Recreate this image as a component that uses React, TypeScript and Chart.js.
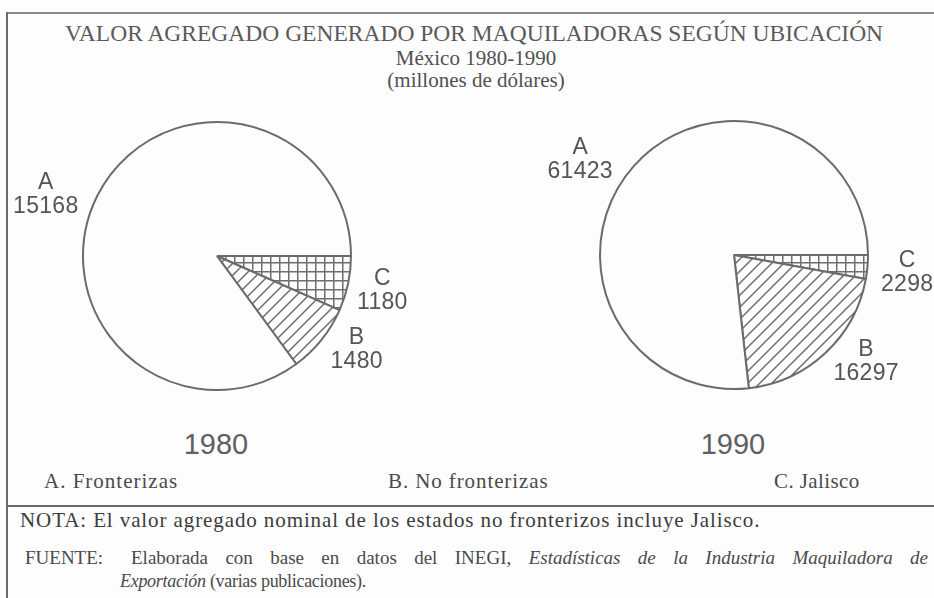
import React, { useEffect, useRef } from 'react';
import { Chart, PieController, ArcElement } from 'chart.js';

Chart.register(PieController, ArcElement);

// ---------- data ----------
const CATEGORIES = ['A', 'B', 'C'];
const CATEGORY_NAMES = ['A. Fronterizas', 'B. No fronterizas', 'C. Jalisco'];
const YEARS = ['1980', '1990'];
const VALUES_1980 = [15168, 1480, 1180];
const VALUES_1990 = [61423, 16297, 2298];

const TITLE = 'VALOR AGREGADO GENERADO POR MAQUILADORAS SEGÚN UBICACIÓN';
const SUBTITLE_1 = 'México 1980-1990';
const SUBTITLE_2 = '(millones de dólares)';

// ---------- styles ----------
const SERIF = '"Liberation Serif", "DejaVu Serif", serif';
const SANS = '"Liberation Sans", Arial, sans-serif';
const INK = '#6b6b6b';
const PAPER = '#fdfdfd';

// label placement relative to each slice's mid-angle (degrees nudge, gap beyond rim)
const PLACEMENT_1980: Record<string, { nudge: number; gap: number }> = {
  C: { nudge: 0, gap: 35 },
  B: { nudge: -5, gap: 34 },
  A: { nudge: -7, gap: 48 },
};
const PLACEMENT_1990: Record<string, { nudge: number; gap: number }> = {
  C: { nudge: 0.5, gap: 40 },
  B: { nudge: -8, gap: 36 },
  A: { nudge: -10, gap: 47 },
};

function makeCrossHatch(ctx: CanvasRenderingContext2D) {
  const s = 9;
  const c = document.createElement('canvas');
  c.width = s;
  c.height = s;
  const g = c.getContext('2d')!;
  g.fillStyle = PAPER;
  g.fillRect(0, 0, s, s);
  g.fillStyle = '#6e6e6e';
  g.fillRect(0, 0, s, 1.5);
  g.fillRect(0, 0, 1.5, s);
  return ctx.createPattern(c, 'repeat')!;
}

function makeDiagonal(ctx: CanvasRenderingContext2D) {
  const s = 12;
  const c = document.createElement('canvas');
  c.width = s;
  c.height = s;
  const g = c.getContext('2d')!;
  g.fillStyle = PAPER;
  g.fillRect(0, 0, s, s);
  g.strokeStyle = '#6e6e6e';
  g.lineWidth = 1.5;
  g.beginPath();
  g.moveTo(0, s);
  g.lineTo(s, 0);
  g.moveTo(-s / 2, s / 2);
  g.lineTo(s / 2, -s / 2);
  g.moveTo(s / 2, s * 1.5);
  g.lineTo(s * 1.5, s / 2);
  g.stroke();
  return ctx.createPattern(c, 'repeat')!;
}

const sliceLabels = {
  id: 'sliceLabels',
  afterDatasetsDraw(chart: any, _args: any, opts: any) {
    const ctx = chart.ctx as CanvasRenderingContext2D;
    const meta = chart.getDatasetMeta(0);
    const labels = chart.data.labels as string[];
    const data = chart.data.datasets[0].data as number[];
    ctx.save();
    ctx.font = opts.font;
    ctx.fillStyle = opts.color;
    ctx.textAlign = 'center';
    ctx.textBaseline = 'middle';
    try {
      (ctx as any).letterSpacing = opts.letterSpacing;
    } catch (e) {
      /* ignore */
    }
    meta.data.forEach((arc: any, i: number) => {
      const p = arc.getProps(['x', 'y', 'startAngle', 'endAngle', 'outerRadius'], true);
      const lay = opts.placement[labels[i]];
      const ang = (p.startAngle + p.endAngle) / 2 + (lay.nudge * Math.PI) / 180;
      const d = p.outerRadius + lay.gap;
      const cx = p.x + Math.cos(ang) * d;
      const cy = p.y + Math.sin(ang) * d;
      ctx.fillText(labels[i], cx, cy - opts.lineGap / 2);
      ctx.fillText(String(data[i]), cx, cy + opts.lineGap / 2);
    });
    ctx.restore();
  },
};

function PieCanvas(props: {
  values: number[];
  placement: Record<string, { nudge: number; gap: number }>;
  left: number;
  top: number;
  width: number;
  height: number;
  padding: { left: number; right: number; top: number; bottom: number };
}) {
  const ref = useRef<HTMLCanvasElement | null>(null);
  useEffect(() => {
    const ctx = ref.current!.getContext('2d')!;
    const order = [2, 1, 0]; // C, B, A clockwise from 3 o'clock
    const fillByCategory: Record<string, any> = {
      A: PAPER,
      B: makeDiagonal(ctx),
      C: makeCrossHatch(ctx),
    };
    const chart = new Chart(ctx, {
      type: 'pie',
      data: {
        labels: order.map((i) => CATEGORIES[i]),
        datasets: [
          {
            data: order.map((i) => props.values[i]),
            backgroundColor: order.map((i) => fillByCategory[CATEGORIES[i]]) as any,
            borderColor: INK,
            borderWidth: 2,
          },
        ],
      },
      options: {
        animation: false,
        responsive: false,
        radius: 134,
        rotation: 90,
        layout: { padding: props.padding },
        plugins: {
          sliceLabels: {
            font: `23px ${SANS}`,
            color: '#555555',
            letterSpacing: '0.3px',
            lineGap: 24,
            placement: props.placement,
          },
        } as any,
      } as any,
      plugins: [sliceLabels as any],
    });
    return () => chart.destroy();
  }, []);
  return (
    <canvas
      ref={ref}
      width={props.width}
      height={props.height}
      style={{ position: 'absolute', left: props.left, top: props.top }}
    />
  );
}

// baseline-positioned text (line-height = font size)
function Text(props: {
  x: number;
  baseline: number;
  size: number;
  sans?: boolean;
  align?: 'left' | 'center';
  color?: string;
  spacing?: number;
  children: React.ReactNode;
  width?: number;
  justify?: boolean;
}) {
  const factor = props.sans ? 0.8465 : 0.8375;
  const top = props.baseline - factor * props.size;
  const centered = props.align === 'center';
  const style: React.CSSProperties = {
    position: 'absolute',
    top,
    left: centered ? props.x - 500 : props.x,
    width: centered ? 1000 : props.width,
    textAlign: props.justify ? 'justify' : centered ? 'center' : 'left',
    textAlignLast: props.justify ? 'justify' : undefined,
    fontFamily: props.sans ? SANS : SERIF,
    fontSize: props.size,
    lineHeight: `${props.size}px`,
    color: props.color || '#555',
    letterSpacing: props.spacing ? `${props.spacing}px` : undefined,
    whiteSpace: props.justify ? 'normal' : 'nowrap',
  };
  return <div style={style}>{props.children}</div>;
}

export default function App() {
  return (
    <div
      style={{
        position: 'fixed',
        left: 0,
        top: 0,
        width: 934,
        height: 598,
        background: PAPER,
        overflow: 'hidden',
      }}
    >
      {/* frame */}
      <div style={{ position: 'absolute', left: 6, top: 12, width: 928, height: 2, background: '#8a8a8a' }} />
      <div style={{ position: 'absolute', left: 6, top: 12, width: 2, height: 586, background: '#6a6a6a' }} />
      <div style={{ position: 'absolute', left: 6, top: 505, width: 928, height: 2, background: '#6a6a6a' }} />

      <Text x={474} baseline={42} size={23.5} align="center" color="#5a5a5a">
        {TITLE}
      </Text>
      <Text x={476} baseline={66} size={21} align="center" color="#505050">
        {SUBTITLE_1}
      </Text>
      <Text x={476} baseline={88} size={21} align="center" color="#505050">
        {SUBTITLE_2}
      </Text>

      <PieCanvas
        values={VALUES_1980}
        placement={PLACEMENT_1980}
        left={0}
        top={100}
        width={467}
        height={320}
        padding={{ left: 83, right: 116, top: 22, bottom: 30 }}
      />
      <PieCanvas
        values={VALUES_1990}
        placement={PLACEMENT_1990}
        left={467}
        top={100}
        width={467}
        height={320}
        padding={{ left: 133, right: 66, top: 21, bottom: 31 }}
      />

      <Text x={216} baseline={455} size={29} sans align="center" color="#606060">
        {YEARS[0]}
      </Text>
      <Text x={733} baseline={455} size={29} sans align="center" color="#606060">
        {YEARS[1]}
      </Text>

      <Text x={44} baseline={489} size={21} spacing={1} color="#4a4a4a">
        {CATEGORY_NAMES[0]}
      </Text>
      <Text x={388} baseline={489} size={21} spacing={0.9} color="#4a4a4a">
        {CATEGORY_NAMES[1]}
      </Text>
      <Text x={774} baseline={489} size={21} spacing={0.4} color="#4a4a4a">
        {CATEGORY_NAMES[2]}
      </Text>

      <Text x={20} baseline={528} size={21} spacing={0.9} color="#3c3c3c">
        NOTA: El valor agregado nominal de los estados no fronterizos incluye Jalisco.
      </Text>
      <Text x={25} baseline={564} size={19} color="#4a4a4a">
        FUENTE:
      </Text>
      <Text x={131} baseline={564} size={19} color="#4a4a4a" width={797} justify>
        Elaborada con base en datos del INEGI, <i>Estadísticas de la Industria Maquiladora de</i>
      </Text>
      <Text x={120} baseline={587} size={18} spacing={-0.3} color="#4a4a4a">
        <i>Exportación</i> (varias publicaciones).
      </Text>
    </div>
  );
}
